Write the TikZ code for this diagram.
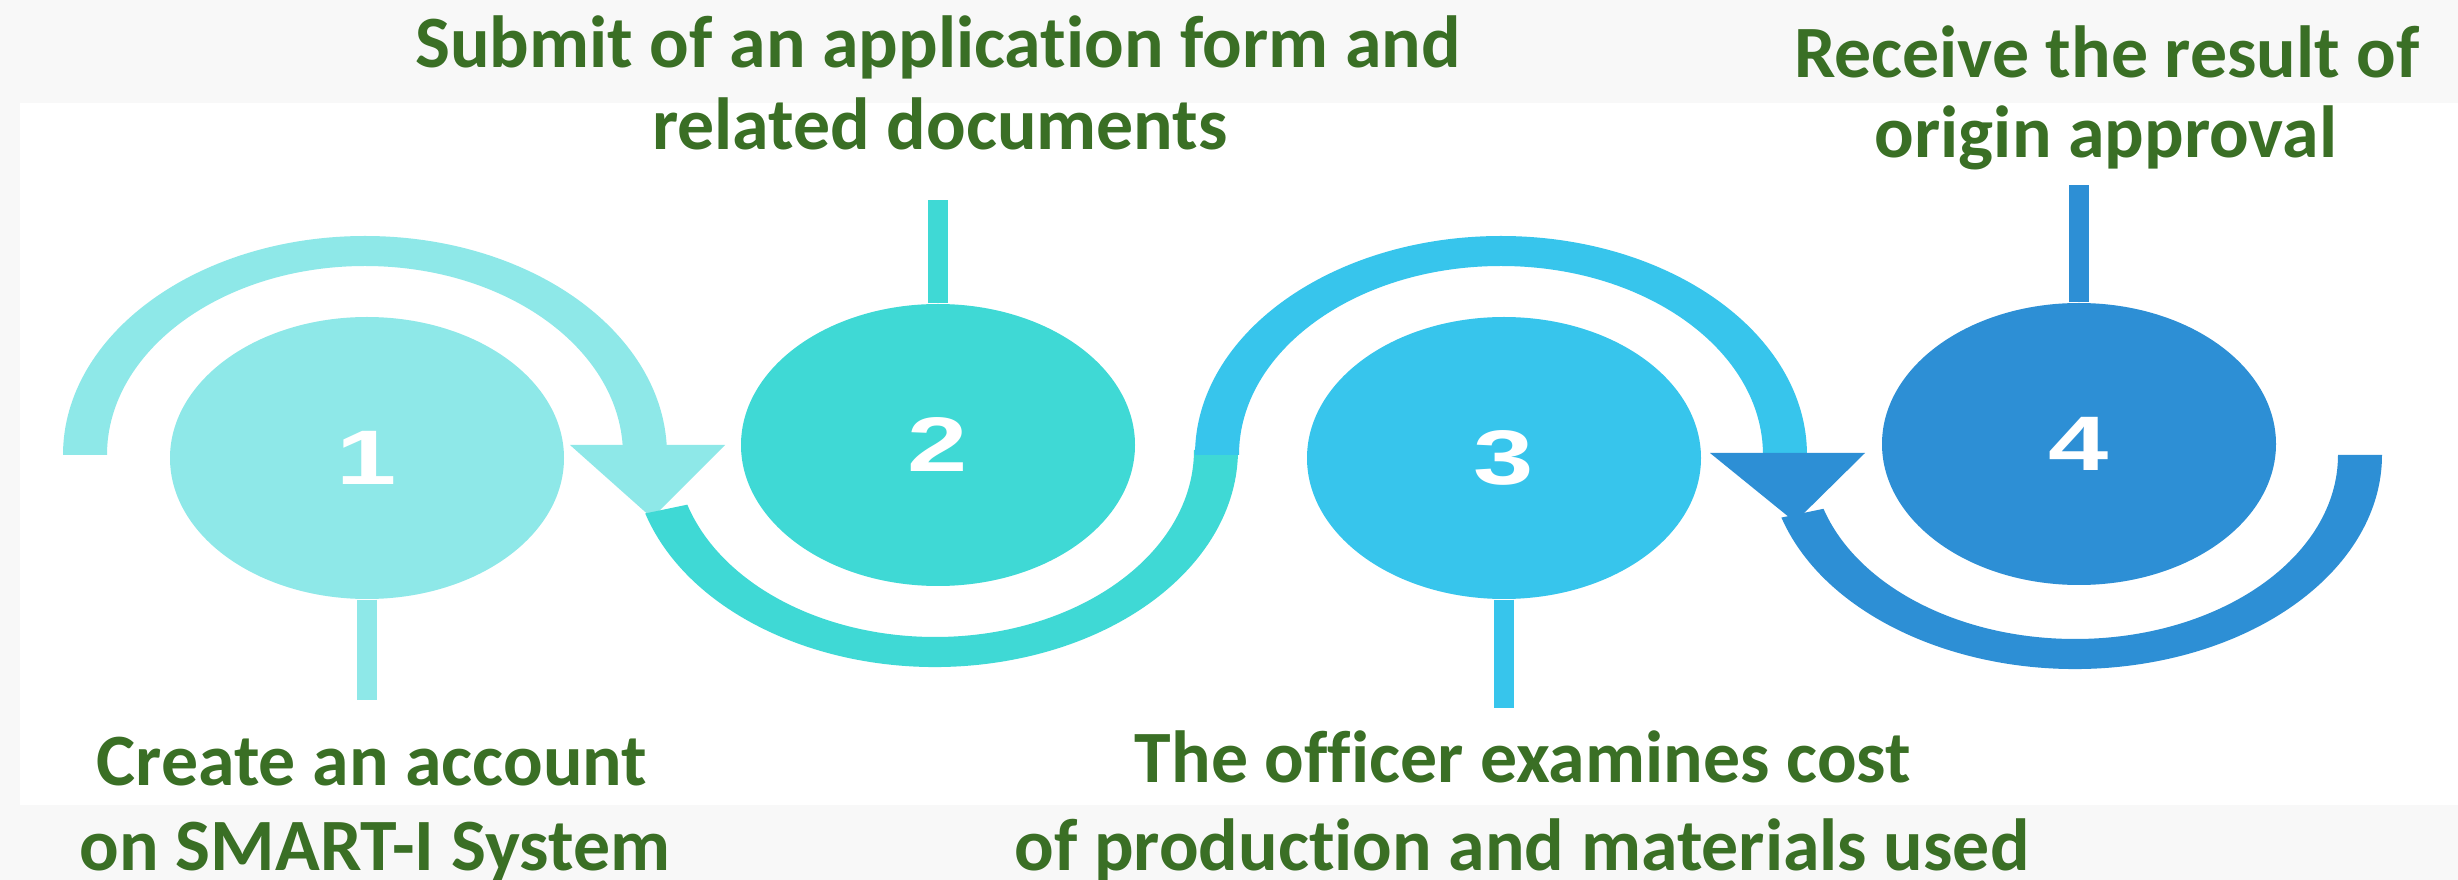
\documentclass[tikz,border=0pt]{standalone}
\usepackage{fontspec}
\usepackage{graphicx}
\setmainfont{Carlito}[Ligatures={NoCommon}]
\newfontfamily\digitfont{Liberation Sans}
\usetikzlibrary{shapes.geometric}
\definecolor{cA}{HTML}{8EE8E8}
\definecolor{cB}{HTML}{3FD9D5}
\definecolor{cC}{HTML}{37C5EC}
\definecolor{cD}{HTML}{2D8FD5}
\definecolor{tgreen}{RGB}{58,111,37}
\definecolor{bggray}{HTML}{F8F8F8}
\begin{document}
\begin{tikzpicture}[
  bubble/.style={ellipse, inner sep=0pt, minimum width=3.94cm, minimum height=2.82cm,
    text=white, font=\digitfont\bfseries\fontsize{22}{22}\selectfont},
  stemline/.style={line width=0.2cm},
  lbl/.style={text=tgreen, font=\bfseries\fontsize{21}{25}\selectfont, anchor=base, inner sep=0pt},
]
\useasboundingbox (0,0) rectangle (24.58,8.80);
\fill[bggray] (0,0) rectangle (24.58,8.80);
\fill[white] (0.20,0.75) rectangle (24.58,7.77);

% arc 1 (upper, around circle 1)
\fill[cA] (0.63,4.25) arc[start angle=180,end angle=0,x radius=3.02,y radius=2.19]
  -- (6.23,4.25) arc[start angle=0,end angle=180,x radius=2.58,y radius=1.89] -- cycle;
% arrowhead 1
\fill[cA] (5.70,4.35) -- (7.25,4.35) -- (6.52,3.62) -- cycle;
% arc 2 (lower, around circle 2)
\fill[cB] ([shift={(197:3.03 and 2.17)}]9.35,4.30)
  arc[start angle=197,end angle=360,x radius=3.03,y radius=2.17]
  -- (11.94,4.30) arc[start angle=360,end angle=197,x radius=2.59,y radius=1.87] -- cycle;
% arc 3 (upper, around circle 3)
\fill[cC] (11.95,4.25) arc[start angle=180,end angle=0,x radius=3.06,y radius=2.19]
  -- (17.63,4.25) arc[start angle=0,end angle=180,x radius=2.62,y radius=1.89] -- cycle;
% arrowhead 3
\fill[cD] (17.10,4.27) -- (18.65,4.27) -- (17.95,3.58) -- cycle;
% arc 4 (lower, around circle 4)
\fill[cD] ([shift={(197:3.07 and 2.14)}]20.75,4.25)
  arc[start angle=197,end angle=360,x radius=3.07,y radius=2.14]
  -- (23.38,4.25) arc[start angle=360,end angle=197,x radius=2.63,y radius=1.84] -- cycle;

% circles
\node[bubble, fill=cA] (n1) at (3.67,4.22) {\scalebox{1.4}[1]{1}};
\node[bubble, fill=cB] (n2) at (9.38,4.35) {\scalebox{1.4}[1]{2}};
\node[bubble, fill=cC] (n3) at (15.04,4.22) {\scalebox{1.4}[1]{3}};
\node[bubble, fill=cD] (n4) at (20.79,4.36) {\scalebox{1.4}[1]{4}};

% stems
\coordinate (s1) at (3.67,1.80);
\coordinate (s2) at (9.38,6.80);
\coordinate (s3) at (15.04,1.72);
\coordinate (s4) at (20.79,6.95);
\draw[stemline, cA] (n1.south) -- (s1);
\draw[stemline, cB] (n2.north) -- (s2);
\draw[stemline, cC] (n3.south) -- (s3);
\draw[stemline, cD] (n4.north) -- (s4);

% labels
\node[lbl] (t2a) at (9.38,8.12) {Submit of an application form and};
\node[lbl] (t2b) at (9.40,7.30) {related documents};
\node[lbl] (t4a) at (21.07,8.02) {Receive the result of};
\node[lbl] (t4b) at (21.06,7.22) {origin approval};
\node[lbl] (t1a) at (3.72,0.95) {Create an account};
\node[lbl] (t1b) at (3.75,0.09) {on SMART-I System};
\node[lbl] (t3a) at (15.23,0.97) {The officer examines cost};
\node[lbl] (t3b) at (15.22,0.09) {of production and materials used};
\end{tikzpicture}
\end{document}
